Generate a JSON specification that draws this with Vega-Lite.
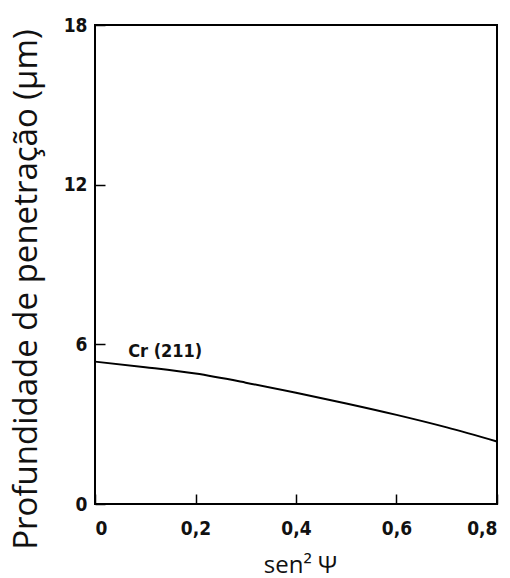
{
  "$schema": "https://vega.github.io/schema/vega-lite/v6.json",
  "width": 402,
  "height": 479,
  "autosize": {"type": "none"},
  "padding": {"left": 95, "top": 25, "right": 13, "bottom": 74},
  "background": "white",
  "config": {
    "view": {"stroke": "black", "strokeWidth": 2},
    "axis": {
      "domain": false,
      "tickColor": "black",
      "tickWidth": 1.5,
      "tickSize": 10,
      "offset": -10,
      "grid": false,
      "labelFont": "DejaVu Sans Condensed",
      "labelFontWeight": "bold",
      "labelFontSize": 19,
      "labelColor": "#111",
      "titleFont": "Open Sans",
      "titleFontWeight": "normal",
      "titleColor": "#111"
    }
  },
  "layer": [
    {
      "data": {
        "values": [
          {"s": 0.0, "d": 5.35},
          {"s": 0.1, "d": 5.14},
          {"s": 0.2, "d": 4.9},
          {"s": 0.3, "d": 4.56},
          {"s": 0.4, "d": 4.18},
          {"s": 0.5, "d": 3.78},
          {"s": 0.6, "d": 3.35},
          {"s": 0.7, "d": 2.88},
          {"s": 0.8, "d": 2.35}
        ]
      },
      "mark": {"type": "line", "color": "black", "strokeWidth": 2, "interpolate": "monotone"},
      "encoding": {
        "x": {
          "field": "s", "type": "quantitative",
          "scale": {"domain": [0, 0.8], "nice": false},
          "axis": {
            "values": [0, 0.2, 0.4, 0.6, 0.8],
            "labelExpr": "datum.value == 0 ? '0' : replace(format(datum.value, '.1f'), '.', ',')",
            "labelPadding": 15,
            "title": "sen² Ψ",
            "titleFontSize": 24,
            "titleX": 205,
            "titleY": 78,
            "titleBaseline": "alphabetic",
            "titleAlign": "center"
          }
        },
        "y": {
          "field": "d", "type": "quantitative",
          "scale": {"domain": [0, 18], "nice": false},
          "axis": {
            "values": [0, 6, 12, 18],
            "labelPadding": 8,
            "title": "Profundidade de penetração (µm)",
            "titleFontSize": 33,
            "titleX": -79,
            "titleY": 264,
            "titleAngle": -90,
            "titleAlign": "center",
            "titleBaseline": "middle"
          }
        }
      }
    },
    {
      "data": {"values": [{"s": 0.066, "d": 5.72, "label": "Cr (211)"}]},
      "mark": {"type": "text", "align": "left", "baseline": "middle", "font": "DejaVu Sans Condensed", "fontWeight": "bold", "fontSize": 18, "color": "#111"},
      "encoding": {
        "x": {"field": "s", "type": "quantitative"},
        "y": {"field": "d", "type": "quantitative"},
        "text": {"field": "label"}
      }
    }
  ]
}
